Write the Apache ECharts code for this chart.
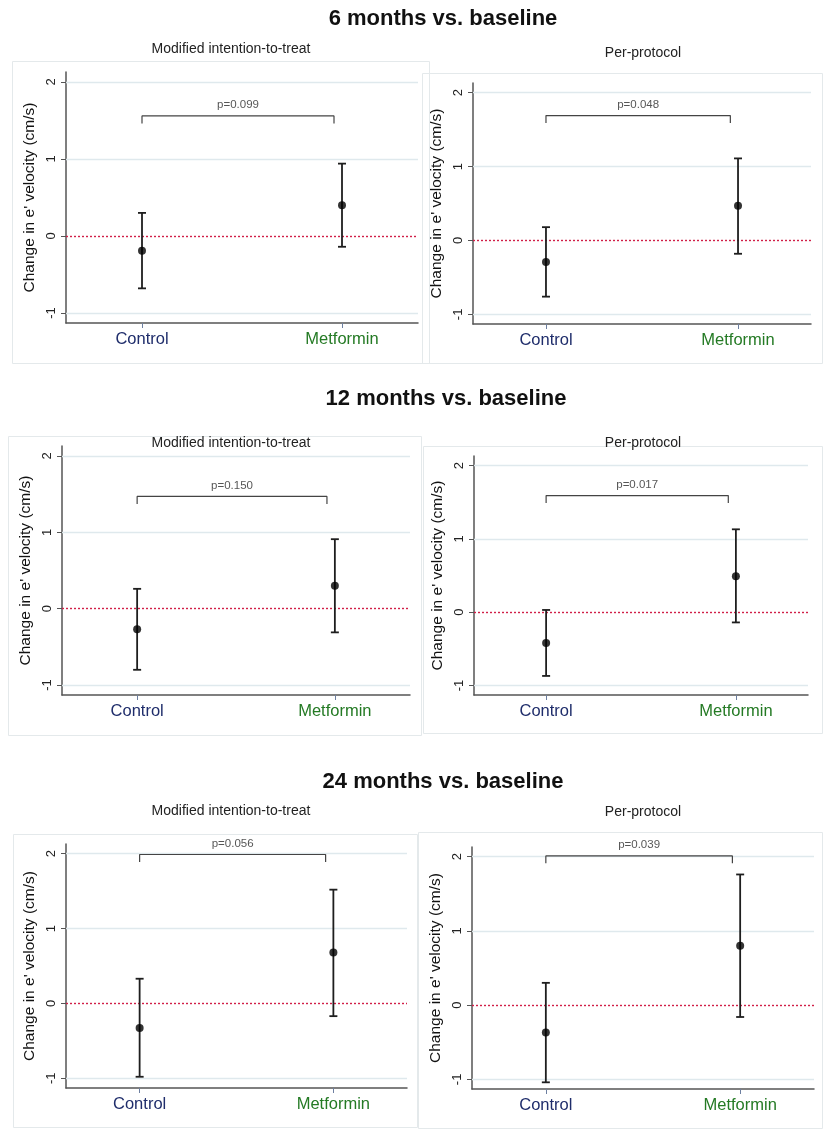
<!DOCTYPE html>
<html>
<head>
<meta charset="utf-8">
<script src="https://cdn.jsdelivr.net/npm/echarts@6/dist/echarts.min.js"></script>
<style>
html,body{margin:0;padding:0;background:#fff;}
#chart{width:823px;height:1129px;}
</style>
</head>
<body>
<div id="chart"></div>
<script>
// ---- data ----
const sectionTitles = ['6 months vs. baseline', '12 months vs. baseline', '24 months vs. baseline'];
const analyses = ['Modified intention-to-treat', 'Per-protocol'];
const groups = ['Control', 'Metformin'];
const yTicks = [-1, 0, 1, 2];
const yLabel = "Change in e' velocity (cm/s)";
// panel order: 6m mITT, 6m PP, 12m mITT, 12m PP, 24m mITT, 24m PP
const controlMean = [-0.19, -0.29, -0.27, -0.42, -0.33, -0.37];
const controlLow = [-0.68, -0.76, -0.80, -0.87, -0.98, -1.04];
const controlHigh = [0.30, 0.18, 0.26, 0.03, 0.33, 0.30];
const metforminMean = [0.40, 0.47, 0.30, 0.49, 0.68, 0.80];
const metforminLow = [-0.14, -0.18, -0.31, -0.14, -0.17, -0.16];
const metforminHigh = [0.94, 1.11, 0.91, 1.13, 1.52, 1.76];
const pValues = ['p=0.099', 'p=0.048', 'p=0.150', 'p=0.017', 'p=0.056', 'p=0.039'];
const bracketTop = [1.56, 1.69, 1.47, 1.59, 1.99, 2.01];
const bracketDrop = 0.1;
const bracketX = [0, 0.96];

// ---- layout ----
const grids = [
  {left: 66, top: 72, width: 352, height: 251},
  {left: 473, top: 83, width: 338, height: 241},
  {left: 62, top: 446, width: 348, height: 249},
  {left: 474, top: 456, width: 334, height: 239},
  {left: 66, top: 844, width: 341, height: 244},
  {left: 472, top: 847, width: 342, height: 242}
];
const subtitlePos = [[231, 49], [643, 53], [231, 443], [643, 443], [231, 811], [643, 812]];
const sectionPos = [[443, 19], [446, 399], [443, 782]];
const boxes = [
  [12, 61, 417, 302], [422, 73, 400, 290],
  [8, 436, 413, 299], [423, 446, 399, 287],
  [13, 834, 404, 293], [418, 832, 404, 296]
];
const ctrlColor = '#1f2d6b';
const metColor = '#247a24';
const FONT = 'Liberation Sans, Arial, sans-serif';

const chart = echarts.init(document.getElementById('chart'), null, {renderer: 'canvas'});

const title = [];
sectionTitles.forEach((t, i) => {
  title.push({text: t, left: sectionPos[i][0], top: sectionPos[i][1] - 13, textAlign: 'center', padding: 0,
    textStyle: {fontFamily: FONT, fontSize: 22, fontWeight: 'bold', color: '#111', lineHeight: 26}});
});
for (let k = 0; k < 6; k++) {
  title.push({text: analyses[k % 2], left: subtitlePos[k][0], top: subtitlePos[k][1] - 8, textAlign: 'center', padding: 0,
    textStyle: {fontFamily: FONT, fontSize: 14, fontWeight: 'normal', color: '#222', lineHeight: 16}});
}

const graphic = boxes.map(b => ({
  type: 'rect', silent: true, z: -10,
  shape: {x: b[0] + 0.5, y: b[1] + 0.5, width: b[2], height: b[3]},
  style: {fill: 'none', stroke: '#e4e9eb', lineWidth: 1}
}));

const grid = [], xAxis = [], yAxis = [], series = [];
for (let k = 0; k < 6; k++) {
  grid.push(Object.assign({containLabel: false}, grids[k]));
  xAxis.push({
    type: 'value', gridIndex: k, min: -0.38, max: 1.38,
    axisLine: {show: true, onZero: false, lineStyle: {color: '#555', width: 1.5}},
    axisTick: {show: true, customValues: [0, 1], length: 5, lineStyle: {color: '#6d7fa0', width: 1}},
    axisLabel: {
      customValues: [0, 1], margin: 8,
      formatter: v => (Math.round(v) === 0 ? '{c|' + groups[0] + '}' : '{m|' + groups[1] + '}'),
      rich: {
        c: {fontFamily: FONT, fontSize: 16.5, color: ctrlColor},
        m: {fontFamily: FONT, fontSize: 16.5, color: metColor}
      }
    },
    splitLine: {show: false}
  });
  yAxis.push({
    type: 'value', gridIndex: k, min: -1.13, max: 2.13,
    name: yLabel, nameLocation: 'middle', nameGap: 28,
    nameTextStyle: {fontFamily: FONT, fontSize: 15.5, color: '#111'},
    axisLine: {show: true, onZero: false, lineStyle: {color: '#555', width: 1.5}},
    axisTick: {show: true, customValues: yTicks, length: 5, lineStyle: {color: '#555', width: 1}},
    axisLabel: {customValues: yTicks, rotate: 90, margin: 8, fontFamily: FONT, fontSize: 13, color: '#222',
      formatter: v => String(Math.round(v))},
    splitLine: {show: false}
  });

  const lows = [controlLow[k], metforminLow[k]];
  const highs = [controlHigh[k], metforminHigh[k]];
  const means = [controlMean[k], metforminMean[k]];

  // error bars
  series.push({
    type: 'custom', xAxisIndex: k, yAxisIndex: k, z: 3, silent: true,
    data: groups.map((g, j) => [j, lows[j], highs[j]]),
    renderItem: function (params, api) {
      const lo = api.coord([api.value(0), api.value(1)]);
      const hi = api.coord([api.value(0), api.value(2)]);
      const cap = 4;
      const style = {stroke: '#1e1e1e', lineWidth: 1.8};
      return {
        type: 'group',
        children: [
          {type: 'line', shape: {x1: lo[0], y1: lo[1], x2: hi[0], y2: hi[1]}, style: style},
          {type: 'line', shape: {x1: lo[0] - cap, y1: lo[1], x2: lo[0] + cap, y2: lo[1]}, style: style},
          {type: 'line', shape: {x1: hi[0] - cap, y1: hi[1], x2: hi[0] + cap, y2: hi[1]}, style: style}
        ]
      };
    }
  });

  // means + reference lines
  series.push({
    type: 'scatter', xAxisIndex: k, yAxisIndex: k, z: 4, silent: true,
    symbol: 'circle', symbolSize: 8,
    itemStyle: {color: '#000'},
    data: groups.map((g, j) => [j, means[j]]),
    markLine: {
      silent: true, symbol: 'none', label: {show: false}, z: 1,
      data: yTicks.map(v => v === 0
        ? {yAxis: v, lineStyle: {color: '#d11f48', type: [2, 2], width: 1.4}}
        : {yAxis: v, lineStyle: {color: '#dfe9ed', type: 'solid', width: 1.3}})
    }
  });

  // bracket
  const top = bracketTop[k], bot = bracketTop[k] - bracketDrop;
  series.push({
    type: 'line', xAxisIndex: k, yAxisIndex: k, z: 2, silent: true,
    symbol: 'none', lineStyle: {color: '#444', width: 1.2},
    data: [[bracketX[0], bot], [bracketX[0], top], [bracketX[1], top], [bracketX[1], bot]]
  });
  // p value label
  series.push({
    type: 'scatter', xAxisIndex: k, yAxisIndex: k, z: 2, silent: true,
    symbolSize: 0,
    data: [[(bracketX[0] + bracketX[1]) / 2, top]],
    label: {show: true, position: 'top', distance: 5, formatter: pValues[k],
      fontFamily: FONT, fontSize: 11.5, color: '#2a2a2a'}
  });
}

chart.setOption({
  animation: false,
  backgroundColor: '#fff',
  title: title,
  graphic: graphic,
  grid: grid,
  xAxis: xAxis,
  yAxis: yAxis,
  series: series
});
</script>
</body>
</html>
